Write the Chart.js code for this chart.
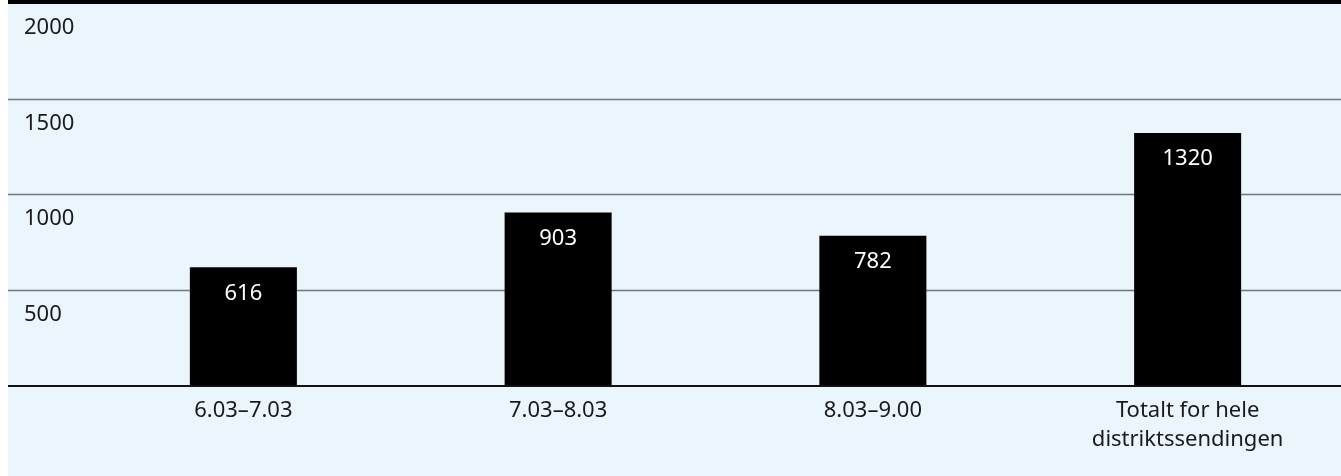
<!DOCTYPE html>
<html>
<head>
<meta charset="utf-8">
<script src="https://cdn.jsdelivr.net/npm/chart.js@4"></script>
<style>
  html, body { margin: 0; padding: 0; background: #fff; overflow: hidden; }
  #wrap { width: 1341px; height: 476px; overflow: hidden; }
</style>
</head>
<body>
<div id="wrap"><canvas id="chart" width="1345" height="476"></canvas></div>
<script>
const categories = [["6.03–7.03"], ["7.03–8.03"], ["8.03–9.00"], ["Totalt for hele", "distriktssendingen"]];
const values = [616, 903, 782, 1320];
const yTicks = [500, 1000, 1500, 2000];

const FONT = "'Noto Sans', sans-serif";

// background panel, grid, labels drawn off the chart's own scales
const decor = {
  id: "decor",
  beforeDraw(chart) {
    const { ctx, width, height } = chart;
    const y = chart.scales.y;
    ctx.save();
    ctx.fillStyle = "#eaf5fc";
    ctx.fillRect(8, 0, width - 8, height);
    // grid lines
    ctx.strokeStyle = "#6f777b";
    ctx.lineWidth = 1.5;
    yTicks.forEach((t) => {
      if (t >= 2000) return;
      const py = Math.round(y.getPixelForValue(t)) + 0.5;
      ctx.beginPath();
      ctx.moveTo(8, py);
      ctx.lineTo(width, py);
      ctx.stroke();
    });
    // top border
    ctx.fillStyle = "#000";
    ctx.fillRect(8, 0, width - 8, 4);
    // tick labels
    ctx.fillStyle = "#1a1a1a";
    ctx.font = "22px " + FONT;
    ctx.textAlign = "left";
    ctx.textBaseline = "middle";
    yTicks.forEach((t) => {
      ctx.fillText(String(t), 24, y.getPixelForValue(t) + 25);
    });
    ctx.restore();
  },
  afterDatasetsDraw(chart) {
    const { ctx, width } = chart;
    const y = chart.scales.y;
    const x = chart.scales.x;
    ctx.save();
    // baseline
    ctx.strokeStyle = "#111";
    ctx.lineWidth = 2;
    const by = y.getPixelForValue(0) + 1;
    ctx.beginPath();
    ctx.moveTo(8, by);
    ctx.lineTo(width, by);
    ctx.stroke();
    // value labels
    ctx.font = "22px " + FONT;
    ctx.textAlign = "center";
    ctx.textBaseline = "middle";
    chart.getDatasetMeta(0).data.forEach((bar, i) => {
      ctx.fillStyle = "#fff";
      ctx.fillText(String(values[i]), bar.x, bar.y + 26);
    });
    // category labels
    ctx.fillStyle = "#1a1a1a";
    categories.forEach((lines, i) => {
      const cx = x.getPixelForValue(i);
      lines.forEach((ln, j) => {
        ctx.fillText(ln, cx, 411 + j * 29);
      });
    });
    ctx.restore();
  }
};

new Chart(document.getElementById("chart"), {
  type: "bar",
  data: {
    labels: categories.map((c) => c.join(" ")),
    datasets: [
      {
        data: values,
        backgroundColor: "#000",
        borderWidth: 0,
        barPercentage: 0.34,
        categoryPercentage: 1,
      },
    ],
  },
  options: {
    responsive: false,
    animation: false,
    layout: { padding: { left: 86, right: 0, top: 3, bottom: 91 } },
    plugins: { legend: { display: false }, tooltip: { enabled: false } },
    scales: {
      x: { display: false },
      y: { display: false, min: 0, max: 2000 },
    },
  },
  plugins: [decor],
});
</script>
</body>
</html>
